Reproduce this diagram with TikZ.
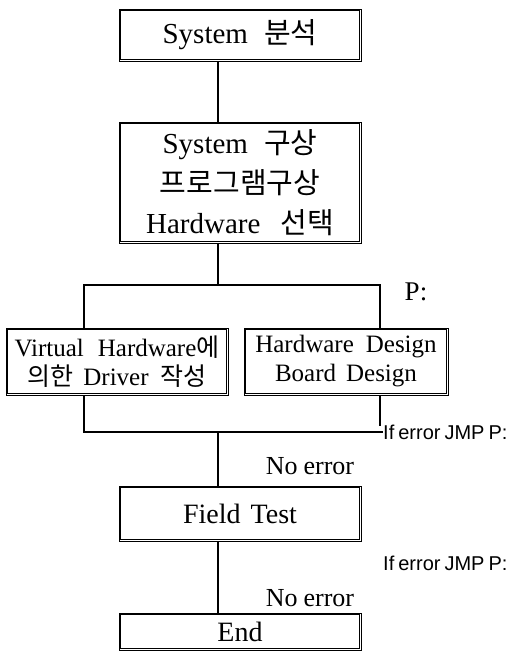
\documentclass[tikz,border=0pt]{standalone}
\usepackage{fontspec}
\setmainfont{Liberation Serif}
\newfontfamily\kr{Noto Sans CJK KR}
\newfontfamily\labelsans{Liberation Sans}
\begin{document}
\begin{tikzpicture}[x=1pt,y=1pt,
  box/.style={draw, line width=0.9pt, inner sep=0pt, align=center},
  wire/.style={line width=1.3pt},
  errtext/.style={font=\labelsans\fontsize{20}{22}\selectfont, anchor=west, inner sep=0pt},
  oktext/.style={font=\fontsize{26}{28}\selectfont, inner sep=0pt}]
\useasboundingbox (0,0) rectangle (507,-653);

% process boxes
\node[box, minimum width=242pt, minimum height=52pt,
  font=\fontsize{29}{32}\selectfont] (b1) at (240,-35)
  {System\hspace{16pt}{\kr 분석}};
\node[box, minimum width=242pt, minimum height=121pt,
  font=\fontsize{29}{40}\selectfont] (b2) at (240,-182.5)
  {System\hspace{16pt}{\kr 구상}\\ {\kr 프로그램구상}\\ Hardware\hspace{20pt}{\kr 선택}};
\node[box, minimum width=222pt, minimum height=67pt,
  font=\fontsize{25}{29}\selectfont] (vl) at (117,-361.5)
  {Virtual\hspace{14pt}Hardware{\kr 에}\\ {\kr 의한}\hspace{10pt}Driver\hspace{12pt}{\kr 작성}};
\node[box, minimum width=204pt, minimum height=67pt,
  font=\fontsize{25}{29}\selectfont] (hd) at (346,-361.5)
  {Hardware\hspace{12pt}Design\\ Board\hspace{10pt}Design};
\node[box, minimum width=242pt, minimum height=55pt,
  font=\fontsize{28}{32}\selectfont] (ft) at (240,-513.5)
  {Field\hspace{10pt}Test};
\node[box, minimum width=242pt, minimum height=37pt,
  font=\fontsize{28}{32}\selectfont] (en) at (240,-631.5)
  {End};

% inner rule of each double-lined frame
\foreach \n in {b1,b2,vl,hd,ft,en}
  \draw[line width=0.6pt] ([shift={(2pt,-2pt)}]\n.north west)
    rectangle ([shift={(-2pt,2pt)}]\n.south east);

% branch and join points
\coordinate (split) at (218,-285);
\coordinate (lx) at (84,-285);
\coordinate (rx) at (380,-285);
\coordinate (merge) at (218,-432);
\coordinate (errA) at (383,-432);
\coordinate (rend) at (380,-426);

% labels
\node[font=\fontsize{27}{30}\selectfont, inner sep=0pt] (pmark) at (416,-292) {P:};
\node[errtext] (err1) at (errA) {If\hspace{4pt}error\hspace{4pt}JMP\hspace{4pt}P:};
\node[oktext] (ok1) at (310,-466) {No\hspace{6pt}error};
\node[errtext] (err2) at (383,-563) {If\hspace{4pt}error\hspace{4pt}JMP\hspace{4pt}P:};
\node[oktext] (ok2) at (310,-598) {No\hspace{6pt}error};

% connectors
\draw[wire] (b1.south -| split) -- (b2.north -| split);
\draw[wire] (b2.south -| split) -- (split);
\draw[wire] (vl.north -| lx) -- (lx) -- (rx) -- (hd.north -| rx);
\draw[wire] (vl.south -| lx) -- (lx |- merge) -- (errA);
\draw[wire] (hd.south -| rx) -- (rend);
\draw[wire] (merge) -- (ft.north -| merge);
\draw[wire] (ft.south -| merge) -- (en.north -| merge);
\end{tikzpicture}
\end{document}
